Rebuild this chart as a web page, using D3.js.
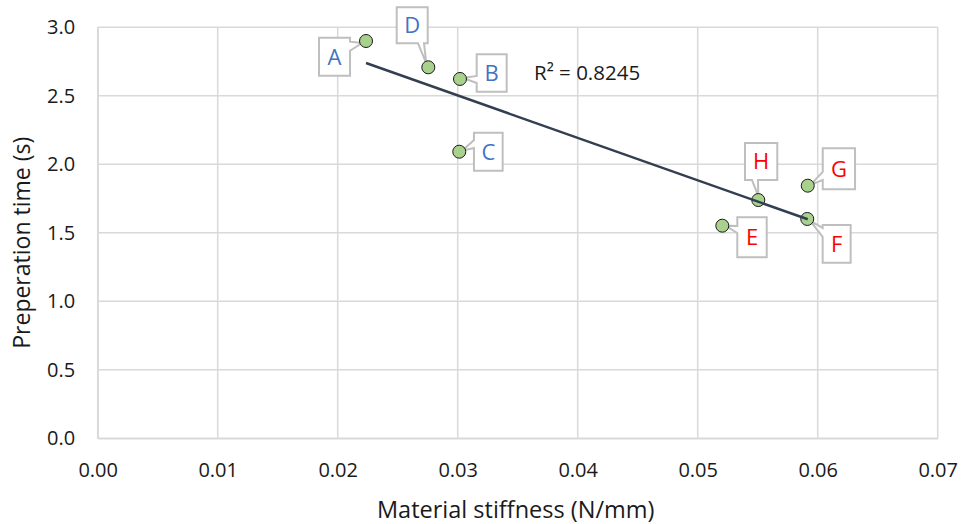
<!DOCTYPE html>
<html>
<head>
<meta charset="utf-8">
<script src="https://cdn.jsdelivr.net/npm/d3@7"></script>
<style>
  html, body { margin: 0; padding: 0; background: #fff; }
  svg { display: block; }
  text { font-family: "Open Sans", sans-serif; }
</style>
</head>
<body>
<svg id="chart" width="963" height="524"></svg>
<script>
// ---- data ----
const labels = ["A", "B", "C", "D", "E", "F", "G", "H"];
const stiffness = [0.02236, 0.03019, 0.03013, 0.02755, 0.05205, 0.05913, 0.05917, 0.05505];
const prepTime = [2.90, 2.623, 2.092, 2.708, 1.552, 1.601, 1.844, 1.739];
const labelColors = ["#4472C4", "#4472C4", "#4472C4", "#4472C4", "#FF0000", "#FF0000", "#FF0000", "#FF0000"];
const xTicks = [0, 0.01, 0.02, 0.03, 0.04, 0.05, 0.06, 0.07];
const yTicks = [0, 0.5, 1.0, 1.5, 2.0, 2.5, 3.0];
const r2Text = "R² = 0.8245";
const xTitle = "Material stiffness (N/mm)";
const yTitle = "Preperation time (s)";

// ---- callout layout (pixel offsets relative to each point) ----
const callouts = {
  A: { dx: -47,  dy: -3.3, w: 31,  h: 38, side: "right",  a: 4,    b: 13,   tx: -4, ty: 2 },
  B: { dx: 16.7, dy: -24.7, w: 30, h: 37.4, side: "left", a: 21.7, b: 28.7, tx: 3,  ty: -1 },
  C: { dx: 14.7, dy: -19,  w: 28.7, h: 38, side: "left",  a: 7.3,  b: 15.3, tx: 3,  ty: -1 },
  D: { dx: -31.6, dy: -60, w: 31,  h: 36, side: "bottom", a: 21.3, b: 27.3, tx: -2, ty: -4 },
  E: { dx: 15,   dy: -8.4, w: 29.4, h: 40, side: "left",  a: 8.7,  b: 15.7, tx: 3,  ty: 0 },
  F: { dx: 15.4, dy: 6,    w: 28,  h: 37.7, side: "left", a: 3,    b: 12,   tx: 3,  ty: 2 },
  G: { dx: 15,   dy: -37.4, w: 32.3, h: 41, side: "left", a: 23.7, b: 31.7, tx: 3,  ty: -1 },
  H: { dx: -13.3, dy: -57, w: 32.3, h: 37, side: "bottom", a: 7,   b: 13,   tx: 0,  ty: -4 }
};

const svg = d3.select("#chart");
const x = d3.scaleLinear().domain([0, 0.07]).range([97.7, 937.7]);
const y = d3.scaleLinear().domain([0, 3.0]).range([438.3, 27.3]);

// gridlines
const grid = svg.append("g");
grid.selectAll("line.v").data(xTicks).enter().append("line")
  .attr("x1", d => x(d)).attr("x2", d => x(d))
  .attr("y1", y(0)).attr("y2", y(3))
  .attr("stroke", "#d9d9d9").attr("stroke-width", 1.5);
grid.selectAll("line.h").data(yTicks).enter().append("line")
  .attr("x1", x(0)).attr("x2", x(0.07))
  .attr("y1", d => y(d)).attr("y2", d => y(d))
  .attr("stroke", "#d9d9d9").attr("stroke-width", 1.5);

// axes
const xAxis = d3.axisBottom(x).tickValues(xTicks).tickFormat(d3.format(".2f")).tickSize(0).tickPadding(22);
const yAxis = d3.axisLeft(y).tickValues(yTicks).tickFormat(d3.format(".1f")).tickSize(0).tickPadding(22.5);
const gx = svg.append("g").attr("transform", `translate(0,${y(0)})`).call(xAxis);
const gy = svg.append("g").attr("transform", `translate(${x(0)},0)`).call(yAxis);
[gx, gy].forEach(g => {
  g.select(".domain").attr("stroke", "#d9d9d9").attr("stroke-width", 1.5);
  g.selectAll("text").attr("font-family", "Open Sans, sans-serif").attr("font-size", 20).attr("fill", "#1a1a1a");
});
gx.selectAll("text").attr("dy", "0.35em").attr("y", 32);

// axis titles
svg.append("text").attr("x", (x(0) + x(0.07)) / 2 - 2).attr("y", 518)
  .attr("text-anchor", "middle").attr("font-size", 23.5).attr("fill", "#1a1a1a").text(xTitle);
svg.append("text").attr("transform", `translate(30,${(y(0) + y(3)) / 2 + 10}) rotate(-90)`)
  .attr("text-anchor", "middle").attr("font-size", 23).attr("fill", "#1a1a1a").text(yTitle);

// points data
const pts = labels.map((l, i) => ({ label: l, x: stiffness[i], y: prepTime[i], color: labelColors[i] }));

// regression
const mx = d3.mean(pts, d => d.x), my = d3.mean(pts, d => d.y);
const sxy = d3.sum(pts, d => (d.x - mx) * (d.y - my));
const sxx = d3.sum(pts, d => (d.x - mx) ** 2);
const slope = sxy / sxx, icpt = my - slope * mx;
const xMin = d3.min(pts, d => d.x), xMax = d3.max(pts, d => d.x);

// callouts
function calloutPath(c, px, py) {
  const x0 = px + c.dx, y0 = py + c.dy, x1 = x0 + c.w, y1 = y0 + c.h;
  const tx = px + c.tx, ty = py + c.ty;
  let p = [];
  p.push([x0, y0]);
  if (c.side === "top") { p.push([x0 + c.a, y0], [tx, ty], [x0 + c.b, y0]); }
  p.push([x1, y0]);
  if (c.side === "right") { p.push([x1, y0 + c.a], [tx, ty], [x1, y0 + c.b]); }
  p.push([x1, y1]);
  if (c.side === "bottom") { p.push([x0 + c.b, y1], [tx, ty], [x0 + c.a, y1]); }
  p.push([x0, y1]);
  if (c.side === "left") { p.push([x0, y0 + c.b], [tx, ty], [x0, y0 + c.a]); }
  return "M" + p.map(q => q.join(",")).join("L") + "Z";
}
const cg = svg.append("g");
pts.forEach(d => {
  const c = callouts[d.label];
  const px = x(d.x), py = y(d.y);
  cg.append("path").attr("d", calloutPath(c, px, py))
    .attr("fill", "#fff").attr("stroke", "#bfbfbf").attr("stroke-width", 2)
    .attr("stroke-linejoin", "miter");
  cg.append("text").attr("x", px + c.dx + c.w / 2).attr("y", py + c.dy + c.h / 2)
    .attr("dy", "0.36em").attr("text-anchor", "middle")
    .attr("font-size", 22).attr("fill", d.color).text(d.label);
});

// points
svg.append("g").selectAll("circle").data(pts).enter().append("circle")
  .attr("cx", d => x(d.x)).attr("cy", d => y(d.y)).attr("r", 6.5)
  .attr("fill", "#a9d18e").attr("stroke", "#1a1a1a").attr("stroke-width", 1);

// trendline
svg.append("line")
  .attr("x1", x(xMin)).attr("y1", y(slope * xMin + icpt))
  .attr("x2", x(xMax)).attr("y2", y(slope * xMax + icpt))
  .attr("stroke", "#333f50").attr("stroke-width", 2.5);

// R² label
svg.append("text").attr("x", 534).attr("y", 80).attr("font-size", 20.5).attr("fill", "#1a1a1a").text(r2Text);
</script>
</body>
</html>
